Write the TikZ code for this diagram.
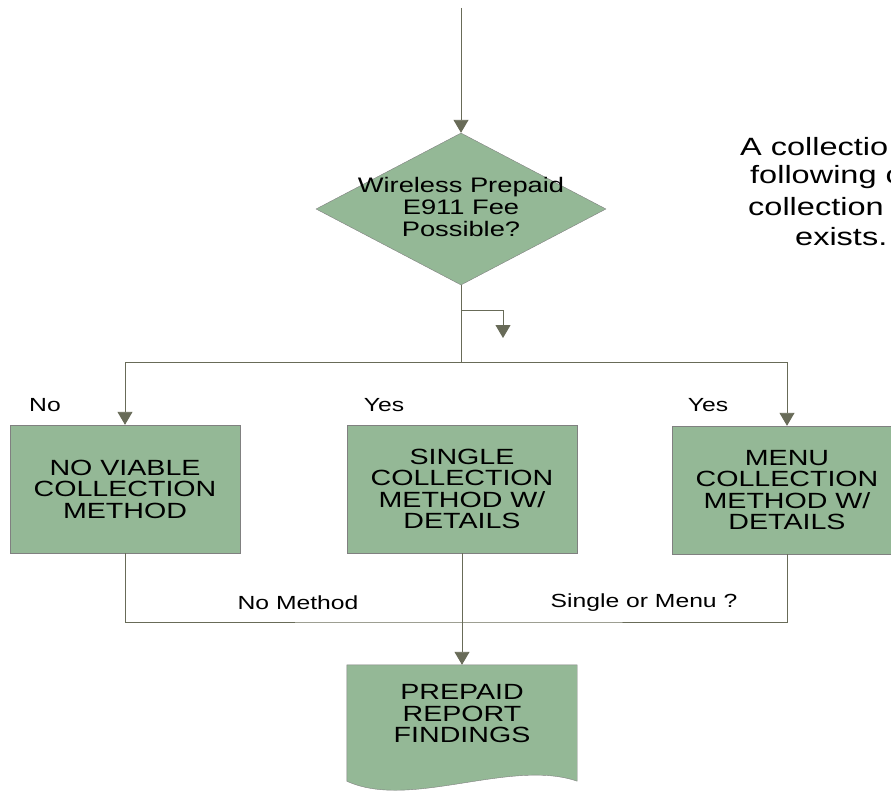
\documentclass[tikz,border=0pt]{standalone}
\usepackage{fontspec}
\setmainfont{Liberation Sans}
\newfontfamily\widesans[FakeStretch=1.3]{Liberation Sans}
\usetikzlibrary{shapes,arrows.meta,positioning}
\definecolor{boxgreen}{RGB}{148,184,150}
\definecolor{edgegray}{RGB}{128,128,128}
\definecolor{linkolive}{RGB}{104,107,88}
\tikzset{
  procbox/.style={rectangle, draw=edgegray, fill=boxgreen, minimum width=230pt, minimum height=128pt, inner sep=0pt},
  decision/.style={diamond, draw=edgegray, fill=boxgreen, minimum width=290pt, minimum height=152pt, inner sep=0pt},
  boxtext/.style={align=center, font=\widesans\fontsize{22}{21.5}\selectfont},
  diatext/.style={align=center, font=\widesans\fontsize{21}{22}\selectfont},
  lbl/.style={font=\widesans\fontsize{19}{22}\selectfont},
  note/.style={anchor=west, inner sep=0pt, font=\widesans\fontsize{25}{30}\selectfont},
  flow/.style={draw=linkolive, line width=0.9pt},
  arr/.style={flow, -{Triangle[width=15pt,length=13pt]}}
}

\begin{document}
\begin{tikzpicture}[x=1pt,y=-1pt]
    \useasboundingbox (0,0) rectangle (891,792);
    \clip (0,0) rectangle (891,792);

    % Decision
    \coordinate (start) at (461,8);
    \node [decision] (fee) at (461,209) {};
    \node [diatext] (feetxt) at (461,207) {Wireless Prepaid\\E911 Fee\\Possible?};
    \draw [arr] (start) -- (fee.north);

    % Note on the right
    \node [note] (note1) at (740,147) {A collectio};
    \node [note] (note2) at (750,177) {following c};
    \node [note] (note3) at (748,207) {collection};
    \node [note] (note4) at (795,237) {exists.};

    % Methods
    \node [procbox, boxtext] (none) at (125,489) {NO VIABLE\\COLLECTION\\METHOD};
    \node [procbox, boxtext] (single) at (462,489) {SINGLE\\COLLECTION\\METHOD W/\\DETAILS};
    \node [procbox, boxtext] (menu) at (787,490) {MENU\\COLLECTION\\METHOD W/\\DETAILS};

    % Split below the decision
    \coordinate (split) at (461,362);
    \coordinate (stub) at (461,310);
    \coordinate (stubend) at (503,338);
    \draw [flow] (fee.south) -- (split);
    \draw [arr] (stub) -| (stubend);
    \draw [arr] (split) -| (none.north);
    \draw [arr] (split) -| (menu.north);
    \node [lbl] (nolbl) at (45,405) {No};
    \node [lbl] (yes1) at (384,405) {Yes};
    \node [lbl] (yes2) at (708,405) {Yes};

    % Report
    \node [minimum width=230pt, minimum height=116pt, inner sep=0pt] (report) at (462,723) {};
    \draw [draw=edgegray, fill=boxgreen] (report.north west) -- (report.north east) -- (report.south east)
        .. controls +(-67,-23) and +(63,29) .. (report.south west) -- cycle;
    \node [boxtext] (reporttxt) at (462,714) {PREPAID\\REPORT\\FINDINGS};

    % Joining lines
    \coordinate (join) at (461,622);
    \draw [flow] (none.south) |- (join) -| (menu.south);
    \draw [arr] (single.south) -- (report.north);
    \node [lbl] (nomethod) at (298,603) {No Method};
    \node [lbl] (singlemenu) at (644,603) {Single or Menu ?};
\end{tikzpicture}
\end{document}
